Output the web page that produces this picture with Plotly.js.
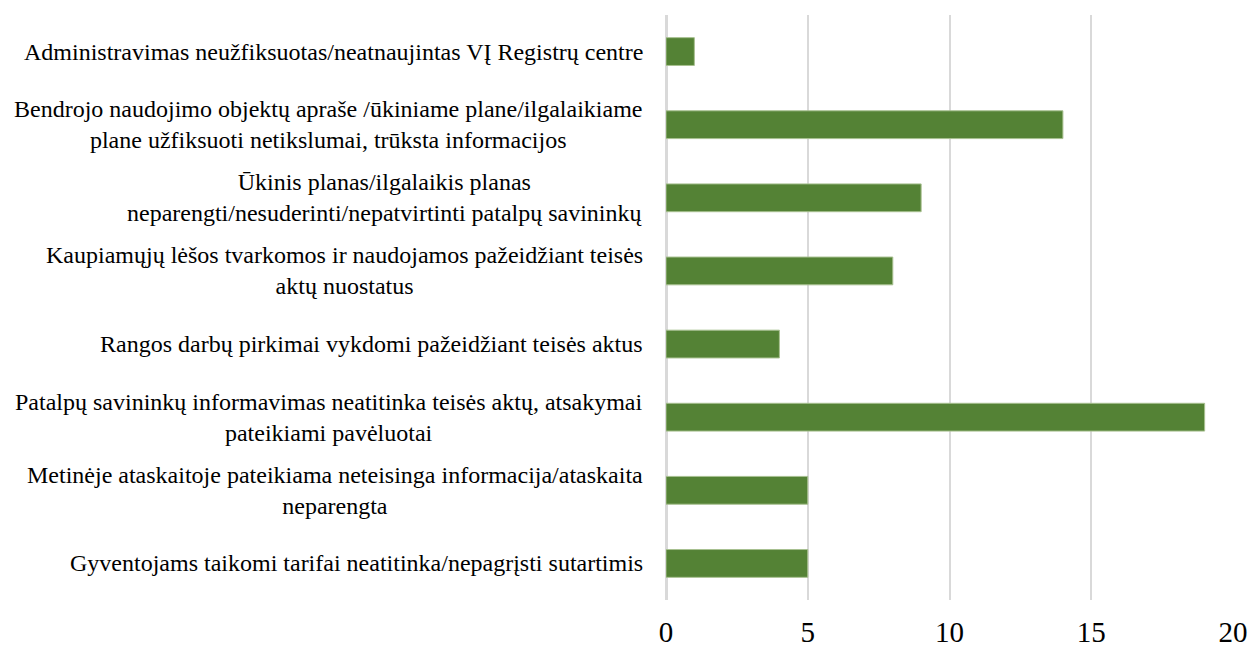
<!DOCTYPE html>
<html>
<head>
<meta charset="utf-8">
<script src="https://cdn.plot.ly/plotly-3.0.1.min.js"></script>
<style>
  html, body { margin: 0; padding: 0; background: #fff; }
  #plotArea { width: 1251px; height: 650px; }
</style>
</head>
<body>
<div id="plotArea"></div>
<script>
// categories, top to bottom
var categories = [
    "Administravimas neužfiksuotas/neatnaujintas VĮ Registrų centre",
    "Bendrojo naudojimo objektų apraše /ūkiniame plane/ilgalaikiame<br>plane užfiksuoti netikslumai, trūksta informacijos",
    "Ūkinis planas/ilgalaikis planas<br>neparengti/nesuderinti/nepatvirtinti patalpų savininkų",
    "Kaupiamųjų lėšos tvarkomos ir naudojamos pažeidžiant teisės<br>aktų nuostatus",
    "Rangos darbų pirkimai vykdomi pažeidžiant teisės aktus",
    "Patalpų savininkų informavimas neatitinka teisės aktų, atsakymai<br>pateikiami pavėluotai",
    "Metinėje ataskaitoje pateikiama neteisinga informacija/ataskaita<br>neparengta",
    "Gyventojams taikomi tarifai neatitinka/nepagrįsti sutartimis"
];
var counts = [1, 14, 9, 8, 4, 19, 5, 5];
var xTicks = [0, 5, 10, 15, 20];

var serif = "Liberation Serif";

var barTrace = {
    x: counts,
    y: categories,
    type: "bar",
    orientation: "h",
    marker: {color: "#548235", line: {color: "#a8c090", width: 1}},
    hoverinfo: "x+y"
};

// labels as annotations so multi-line text is centred like the original
var labelNotes = categories.map(function (c) {
    return {
        text: c,
        xref: "paper",
        yref: "y",
        x: 0,
        y: c,
        xanchor: "right",
        yanchor: "middle",
        xshift: -21,
        align: "center",
        showarrow: false,
        font: {family: serif, size: 24, color: "#000"}
    };
});

var barLayout = {
    width: 1251,
    height: 650,
    margin: {l: 666, r: 18, t: 15, b: 50},
    font: {family: serif, color: "#000"},
    paper_bgcolor: "#fff",
    plot_bgcolor: "#fff",
    showlegend: false,
    bargap: 0.62,
    xaxis: {
        range: [0, 20],
        tickvals: xTicks,
        ticktext: xTicks.map(String),
        showgrid: true,
        gridcolor: "#d9d9d9",
        gridwidth: 2,
        zeroline: true,
        zerolinecolor: "#d9d9d9",
        zerolinewidth: 3,
        showline: false,
        ticks: "",
        ticklabelstandoff: 12,
        tickfont: {family: serif, size: 29, color: "#000"}
    },
    yaxis: {
        type: "category",
        autorange: "reversed",
        showticklabels: false,
        showgrid: false,
        zeroline: false,
        showline: false,
        ticks: ""
    },
    annotations: labelNotes
};

Plotly.newPlot("plotArea", [barTrace], barLayout, {displayModeBar: false});
</script>
</body>
</html>
